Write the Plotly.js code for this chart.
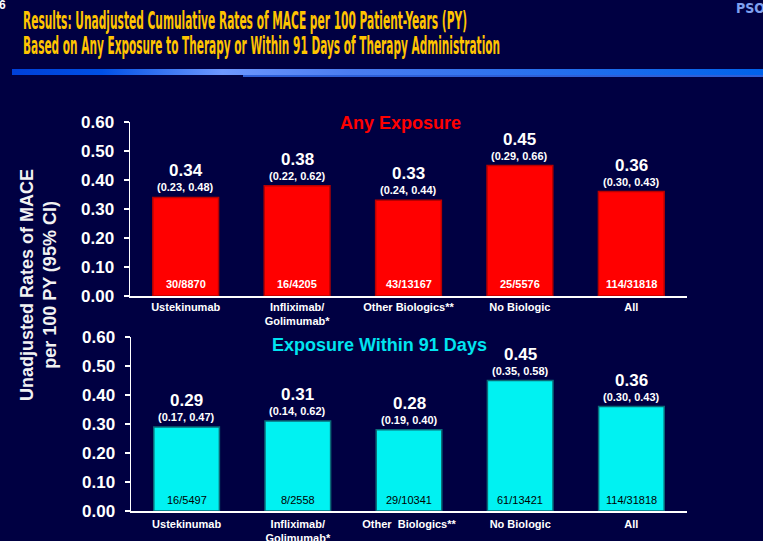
<!DOCTYPE html>
<html>
<head>
<meta charset="utf-8">
<script src="https://cdn.plot.ly/plotly-3.0.1.min.js"></script>
<style>
html,body{margin:0;padding:0;background:#000042;}
#chart{width:763px;height:541px;}
</style>
</head>
<body>
<div id="chart"></div>
<script>
// ---- data ----
const categoriesTop = ["Ustekinumab", "Infliximab/<br>Golimumab*", "Other Biologics**", "No Biologic", "All"];
const categoriesBottom = ["Ustekinumab", "Infliximab/<br>Golimumab*", "Other\u00a0 Biologics**", "No Biologic", "All"];
const rateAny = [0.34, 0.38, 0.33, 0.45, 0.36];
const ciAny = ["(0.23, 0.48)", "(0.22, 0.62)", "(0.24, 0.44)", "(0.29, 0.66)", "(0.30, 0.43)"];
const countAny = ["30/8870", "16/4205", "43/13167", "25/5576", "114/31818"];
const rate91 = [0.29, 0.31, 0.28, 0.45, 0.36];
const ci91 = ["(0.17, 0.47)", "(0.14, 0.62)", "(0.19, 0.40)", "(0.35, 0.58)", "(0.30, 0.43)"];
const count91 = ["16/5497", "8/2558", "29/10341", "61/13421", "114/31818"];
const yTicks = [0, 0.1, 0.2, 0.3, 0.4, 0.5, 0.6];

const titleLine1 = "Results: Unadjusted Cumulative Rates of MACE per 100 Patient-Years (PY)";
const titleLine2 = "Based on Any Exposure to Therapy or Within 91 Days of Therapy Administration";
const subTop = "Any Exposure";
const subBottom = "Exposure Within 91 Days";
const yTitle = "Unadjusted Rates of MACE<br>per 100 PY (95% CI)";

// ---- styles ----
const BG = "#000042";
const FONT = "Liberation Sans, Arial, sans-serif";
const NARROW = "Liberation Sans Narrow, DejaVu Sans Condensed, sans-serif";
const W = 763, H = 541;
const py = p => 1 - p / H;
const px = p => p / W;

const idx = categoriesTop.map((_, i) => i);

const traces = [
  {
    type: "bar", x: idx, y: rateAny, xaxis: "x", yaxis: "y", width: 0.59,
    marker: {color: "#FF0000", line: {color: "#B80000", width: 1.5}},
    hoverinfo: "skip", showlegend: false
  },
  {
    type: "bar", x: idx, y: rate91, xaxis: "x2", yaxis: "y2", width: 0.59,
    marker: {color: "#00F2F2", line: {color: "#0A6B78", width: 1.5}},
    hoverinfo: "skip", showlegend: false
  }
];

const annotations = [];
function addBarLabels(rates, cis, counts, xr, yr, countColor, countWeight, countShift) {
  rates.forEach((v, i) => {
    annotations.push({xref: xr, yref: yr, x: i, y: v, yanchor: "bottom", yshift: 15, showarrow: false,
      text: v.toFixed(2), font: {family: FONT, size: 17, color: "#FFFFFF", weight: "bold"}});
    annotations.push({xref: xr, yref: yr, x: i, y: v, yanchor: "bottom", yshift: 2, showarrow: false,
      text: cis[i], font: {family: FONT, size: 11, color: "#FFFFFF", weight: "bold"}});
    annotations.push({xref: xr, yref: yr, x: i, y: 0, yanchor: "bottom", yshift: countShift, showarrow: false,
      text: counts[i], font: {family: FONT, size: 11, color: countColor, weight: countWeight}});
  });
}
addBarLabels(rateAny, ciAny, countAny, "x", "y", "#FFFFFF", "bold", 4);
addBarLabels(rate91, ci91, count91, "x2", "y2", "#000000", "normal", 3);

// titles
annotations.push({xref: "paper", yref: "paper", x: px(21), y: py(21), xanchor: "left", yanchor: "middle",
  showarrow: false, text: titleLine1, align: "left",
  font: {family: NARROW, size: 24, color: "#FFC400", weight: "bold"}});
annotations.push({xref: "paper", yref: "paper", x: px(21), y: py(46), xanchor: "left", yanchor: "middle",
  showarrow: false, text: titleLine2, align: "left",
  font: {family: NARROW, size: 24, color: "#FFC400", weight: "bold"}});
// corner artifacts
annotations.push({xref: "paper", yref: "paper", x: px(-3), y: py(5), xanchor: "left", yanchor: "middle",
  showarrow: false, text: "6", font: {family: FONT, size: 12, color: "#FFFFFF", weight: "bold"}});
annotations.push({xref: "paper", yref: "paper", x: px(734), y: py(8), xanchor: "left", yanchor: "middle",
  showarrow: false, text: "PSOL", font: {family: NARROW, size: 14, color: "#7FA0F0", weight: "bold"}});
// subtitles
annotations.push({xref: "paper", yref: "paper", x: px(400), y: py(123), xanchor: "center", yanchor: "middle",
  showarrow: false, text: subTop, font: {family: FONT, size: 18, color: "#FF0000", weight: "bold"}});
annotations.push({xref: "paper", yref: "paper", x: px(379), y: py(345), xanchor: "center", yanchor: "middle",
  showarrow: false, text: subBottom, font: {family: FONT, size: 18, color: "#00E4F0", weight: "bold"}});
// y title
annotations.push({xref: "paper", yref: "paper", x: px(38), y: py(285), xanchor: "center", yanchor: "middle",
  showarrow: false, text: yTitle, textangle: -90,
  font: {family: FONT, size: 18, color: "#F2F2F2", weight: "bold"}});

function xAxis(domain, anchor, cats, standoff) {
  return {
    domain: domain, anchor: anchor, range: [-0.5, 4.5], tickmode: "array", tickvals: idx, ticktext: cats,
    showline: true, linecolor: "#FFFFFF", linewidth: 1.5, ticks: "", showgrid: false, zeroline: false,
    tickfont: {family: FONT, size: 11, color: "#FFFFFF", weight: "bold"}, ticklabelstandoff: standoff,
    fixedrange: true
  };
}
function yAxis(domain, anchor) {
  return {
    domain: domain, anchor: anchor, range: [0, 0.6], tickmode: "array", tickvals: yTicks, tickformat: ".2f",
    showline: true, linecolor: "#FFFFFF", linewidth: 1.5, ticks: "outside", ticklen: 5, tickcolor: "#FFFFFF",
    tickwidth: 1.5, showgrid: false, zeroline: false, ticklabelstandoff: 6,
    tickfont: {family: FONT, size: 17, color: "#FFFFFF", weight: "bold"}, fixedrange: true
  };
}

const gradSvg = '<svg xmlns="http://www.w3.org/2000/svg" width="751" height="8" preserveAspectRatio="none">' +
  '<defs><linearGradient id="g" x1="0" x2="1" y1="0" y2="0">' +
  '<stop offset="0" stop-color="#0040D8"/><stop offset="0.12" stop-color="#0050E4"/>' +
  '<stop offset="0.28" stop-color="#6E98FF"/><stop offset="0.45" stop-color="#4A7CF0"/>' +
  '<stop offset="1" stop-color="#0062EA"/></linearGradient></defs>' +
  '<rect x="0" y="0" width="751" height="6" fill="url(#g)"/>' +
  '<rect x="231" y="6" width="520" height="2" fill="#2E5FD8"/></svg>';

const layout = {
  width: W, height: H,
  margin: {l: 0, r: 0, t: 0, b: 0},
  paper_bgcolor: BG, plot_bgcolor: BG,
  showlegend: false,
  bargap: 0.4,
  xaxis: xAxis([px(130), px(687)], "y", categoriesTop, 0),
  yaxis: yAxis([py(296), py(122)], "x"),
  xaxis2: xAxis([px(131), px(687)], "y2", categoriesBottom, 2),
  yaxis2: yAxis([py(511), py(337)], "x2"),
  annotations: annotations,
  images: [{
    source: "data:image/svg+xml;base64," + btoa(gradSvg),
    xref: "paper", yref: "paper", x: px(12), y: py(69), sizex: px(751), sizey: 8 / H,
    xanchor: "left", yanchor: "top", sizing: "stretch", layer: "above"
  }]
};

Plotly.newPlot("chart", traces, layout, {staticPlot: true, displayModeBar: false}).then(gd => {
  // condense the narrow headline to the reference's width
  const targets = {};
  targets[titleLine1] = 444;
  targets[titleLine2] = 477;
  gd.querySelectorAll("text.annotation-text").forEach(t => {
    const L = targets[t.textContent];
    if (L) {
      t.setAttribute("textLength", L);
      t.setAttribute("lengthAdjust", "spacingAndGlyphs");
    }
  });
});
</script>
</body>
</html>
